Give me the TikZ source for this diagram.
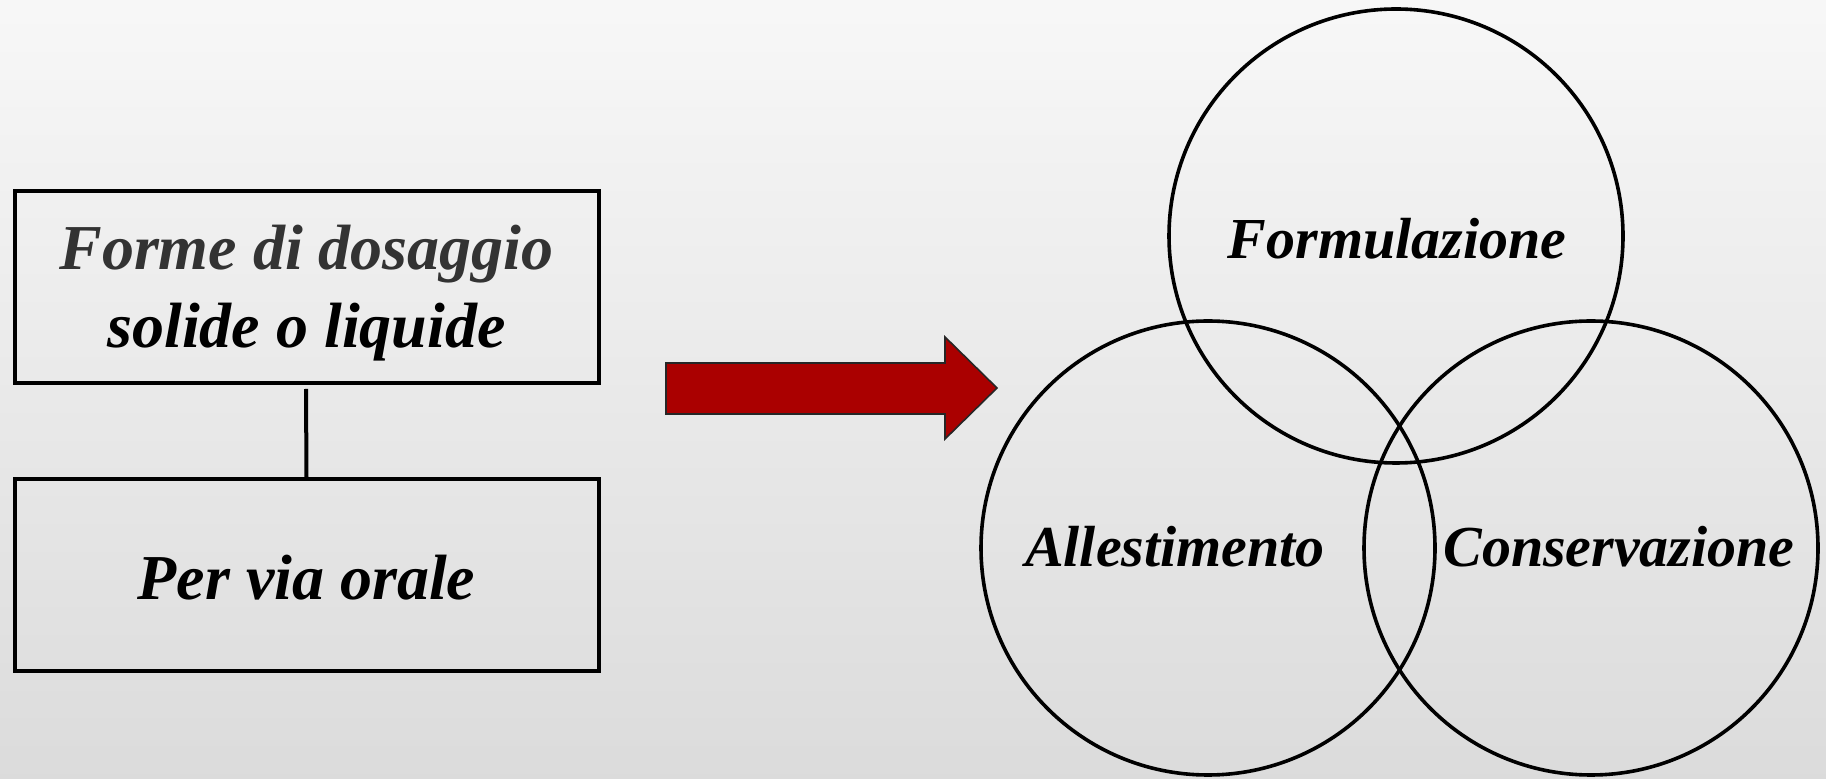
\documentclass[tikz,border=0pt]{standalone}
\usepackage{fontspec}
\setmainfont{Liberation Serif}
\begin{document}
\begin{tikzpicture}[x=0.5pt,y=-0.5pt,
  boxnode/.style={draw=black,line width=2pt,rectangle,minimum width=292pt,minimum height=96pt,inner sep=0pt,align=center,font=\fontsize{32}{39}\selectfont\bfseries\itshape},
  boxtext/.style={inner sep=0pt,align=center,font=\fontsize{32}{39}\selectfont\bfseries\itshape},
  venn/.style={draw=black,line width=1.8pt,circle,minimum size=227pt,inner sep=0pt},
  vlabel/.style={inner sep=0pt,font=\fontsize{29}{34}\selectfont\bfseries\itshape},
  link/.style={draw=black,line width=2pt}]
\shade[top color=white!97!black,bottom color=white!86!black] (0,0) rectangle (1826,779);
\useasboundingbox (0,0) rectangle (1826,779);
\node[boxnode] (forme) at (306.5,287.5) {};
\node[boxtext] (formet) at (306.5,293) {{\color{black!80}Forme di dosaggio}\\solide o liquide};
\node[boxnode] (orale) at (306.5,575.5) {};
\node[boxtext] (oralet) at (306.5,578) {Per via orale};
\coordinate (lt) at (306,389);
\draw[link] (lt) -- (orale.north);
\draw[fill={rgb,255:red,170;green,0;blue,0},draw=black!85,line width=0.8pt]
  (666,363) -- (945,363) -- (945,337) -- (997,388) -- (945,439) -- (945,414) -- (666,414) -- cycle;
\node[venn] (cf) at (1396,236) {};
\node[venn] (ca) at (1208,548) {};
\node[venn] (cc) at (1591,548) {};
\node[vlabel] (tf) at (1397,239) {Formulazione};
\node[vlabel] (ta) at (1175,547) {Allestimento};
\node[vlabel] (tc) at (1619,547) {Conservazione};
\end{tikzpicture}
\end{document}
